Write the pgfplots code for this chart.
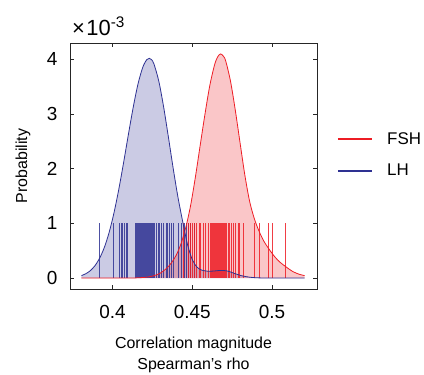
\documentclass[border=0pt]{standalone}
\usepackage{pgfplots}
\usepackage{pgfplotstable}
\usepackage{fontspec}
\setmainfont{Liberation Sans}
\pgfplotsset{compat=1.18}
\definecolor{lhblue}{RGB}{46,49,146}
\definecolor{fshred}{RGB}{237,28,36}

\pgfplotstableread{
x y
0.3806 0.046
0.383 0.075
0.386 0.132
0.389 0.225
0.392 0.365
0.395 0.567
0.398 0.843
0.401 1.198
0.404 1.627
0.407 2.114
0.410 2.627
0.413 3.121
0.416 3.548
0.419 3.856
0.4215 3.995
0.4231 4.020
0.4245 3.996
0.426 3.917
0.429 3.609
0.432 3.144
0.435 2.592
0.438 2.020
0.441 1.489
0.444 1.038
0.447 0.62
0.450 0.34
0.453 0.20
0.456 0.145
0.460 0.125
0.464 0.13
0.468 0.14
0.472 0.13
0.476 0.09
0.480 0.05
0.484 0.025
0.488 0.01
0.495 0.002
0.5204 0.0
}\lhcurve

\pgfplotstableread{
x y
0.3806 0
0.410 0
0.415 0.004
0.420 0.012
0.425 0.035
0.430 0.09
0.434 0.18
0.437 0.28
0.440 0.42
0.443 0.63
0.446 0.93
0.449 1.33
0.452 1.85
0.455 2.43
0.458 3.00
0.461 3.52
0.464 3.90
0.466 4.05
0.4678 4.10
0.4695 4.06
0.471 3.97
0.474 3.60
0.477 3.07
0.480 2.47
0.483 1.88
0.486 1.40
0.489 1.08
0.492 0.85
0.495 0.67
0.4986 0.51
0.502 0.38
0.505 0.29
0.509 0.20
0.513 0.12
0.517 0.07
0.5204 0.045
}\fshcurve

\pgfplotstableread{
x y
0.3921 1
0.4006 1
0.4044 1
0.4054 1
0.4063 1
0.4073 1
0.4086 1
0.4096 1
0.4142 1
0.4148 1
0.4153 1
0.4158 1
0.4163 1
0.4167 1
0.4172 1
0.4178 1
0.4183 1
0.4189 1
0.4194 1
0.4199 1
0.4205 1
0.4210 1
0.4215 1
0.4219 1
0.4225 1
0.4229 1
0.4233 1
0.4238 1
0.4243 1
0.4248 1
0.4252 1
0.4256 1
0.4263 1
0.4278 1
0.4288 1
0.4298 1
0.4309 1
0.4319 1
0.4336 1
0.4344 1
0.4356 1
0.4371 1
0.4381 1
0.4413 1
0.4434 1
0.4454 1
0.4466 1
0.4475 1
0.4492 1
0.4513 1
}\lhrug

\pgfplotstableread{
x y
0.4444 1
0.4475 1
0.4490 1
0.4503 1
0.4517 1
0.4528 1
0.4544 1
0.4553 1
0.4569 1
0.4584 1
0.4600 1
0.4615 1
0.4622 1
0.4628 1
0.4633 1
0.4639 1
0.4645 1
0.4650 1
0.4656 1
0.4663 1
0.4669 1
0.4673 1
0.4677 1
0.4681 1
0.4686 1
0.4690 1
0.4695 1
0.4700 1
0.4705 1
0.4710 1
0.4715 1
0.4725 1
0.4736 1
0.4746 1
0.4756 1
0.4773 1
0.4788 1
0.4798 1
0.4819 1
0.4892 1
0.4919 1
0.4975 1
0.5000 1
0.5086 1
}\fshrug

\begin{document}
\begin{tikzpicture}
\useasboundingbox (0,0) rectangle (424bp,375bp);
\begin{axis}[
  at={(70bp,86bp)}, anchor=south west,
  scale only axis, width=247bp, height=246bp,
  xmin=0.3734, xmax=0.5282, ymin=-0.2, ymax=4.3,
  xtick={0.4,0.45,0.5}, xticklabels={0.4,0.45,0.5},
  ytick={0,1,2,3,4},
  tick align=inside, major tick length=4bp,
  axis line style={line width=0.7bp, black!85},
  every tick/.style={black!85, line width=0.7bp},
  /pgf/number format/assume math mode=true,
  tick label style={font=\fontsize{19}{22}\selectfont},
  xticklabel style={yshift=-13bp},
  yticklabel style={xshift=-9bp},
  every axis y label/.style={at={(axis description cs:-0.19,0.5)}, rotate=90, anchor=center, font=\fontsize{16}{19}\selectfont},
  every axis x label/.style={at={(axis description cs:0.5,-0.18)}, anchor=north, align=center, font=\fontsize{16}{21}\selectfont},
  ylabel={Probability},
  xlabel={Correlation magnitude\\Spearman’s rho},
  legend style={draw=none, fill=none, at={(1.08,0.545)}, anchor=west, font=\fontsize{17}{20}\selectfont, row sep=14.5bp, inner sep=0pt},
  legend cell align=left,
  legend image code/.code={\draw[#1, line width=1.6bp] (0bp,0bp) -- (34bp,0bp); \path (47bp,0bp);},
  clip=false,
]
\addplot[draw=none, fill=lhblue, fill opacity=0.25, smooth, forget plot] table {\lhcurve} \closedcycle;
\addplot[draw=none, fill=fshred, fill opacity=0.25, smooth, forget plot] table {\fshcurve} \closedcycle;
\addplot[ycomb, lhblue, opacity=0.85, line width=1bp, forget plot] table {\lhrug};
\addplot[ycomb, fshred, opacity=0.85, line width=1bp, forget plot] table {\fshrug};
\addplot[fshred, line width=0.8bp, smooth] table {\fshcurve};
\addlegendentry{FSH}
\addplot[lhblue, line width=0.8bp, smooth] table {\lhcurve};
\addlegendentry{LH}
\node[anchor=base west, font=\fontsize{22}{24}\selectfont, inner sep=0pt] at ([xshift=2bp, yshift=8bp]rel axis cs:0,1) {×\kern1.5bp 10\textsuperscript{-3}};
\end{axis}
\end{tikzpicture}
\end{document}
